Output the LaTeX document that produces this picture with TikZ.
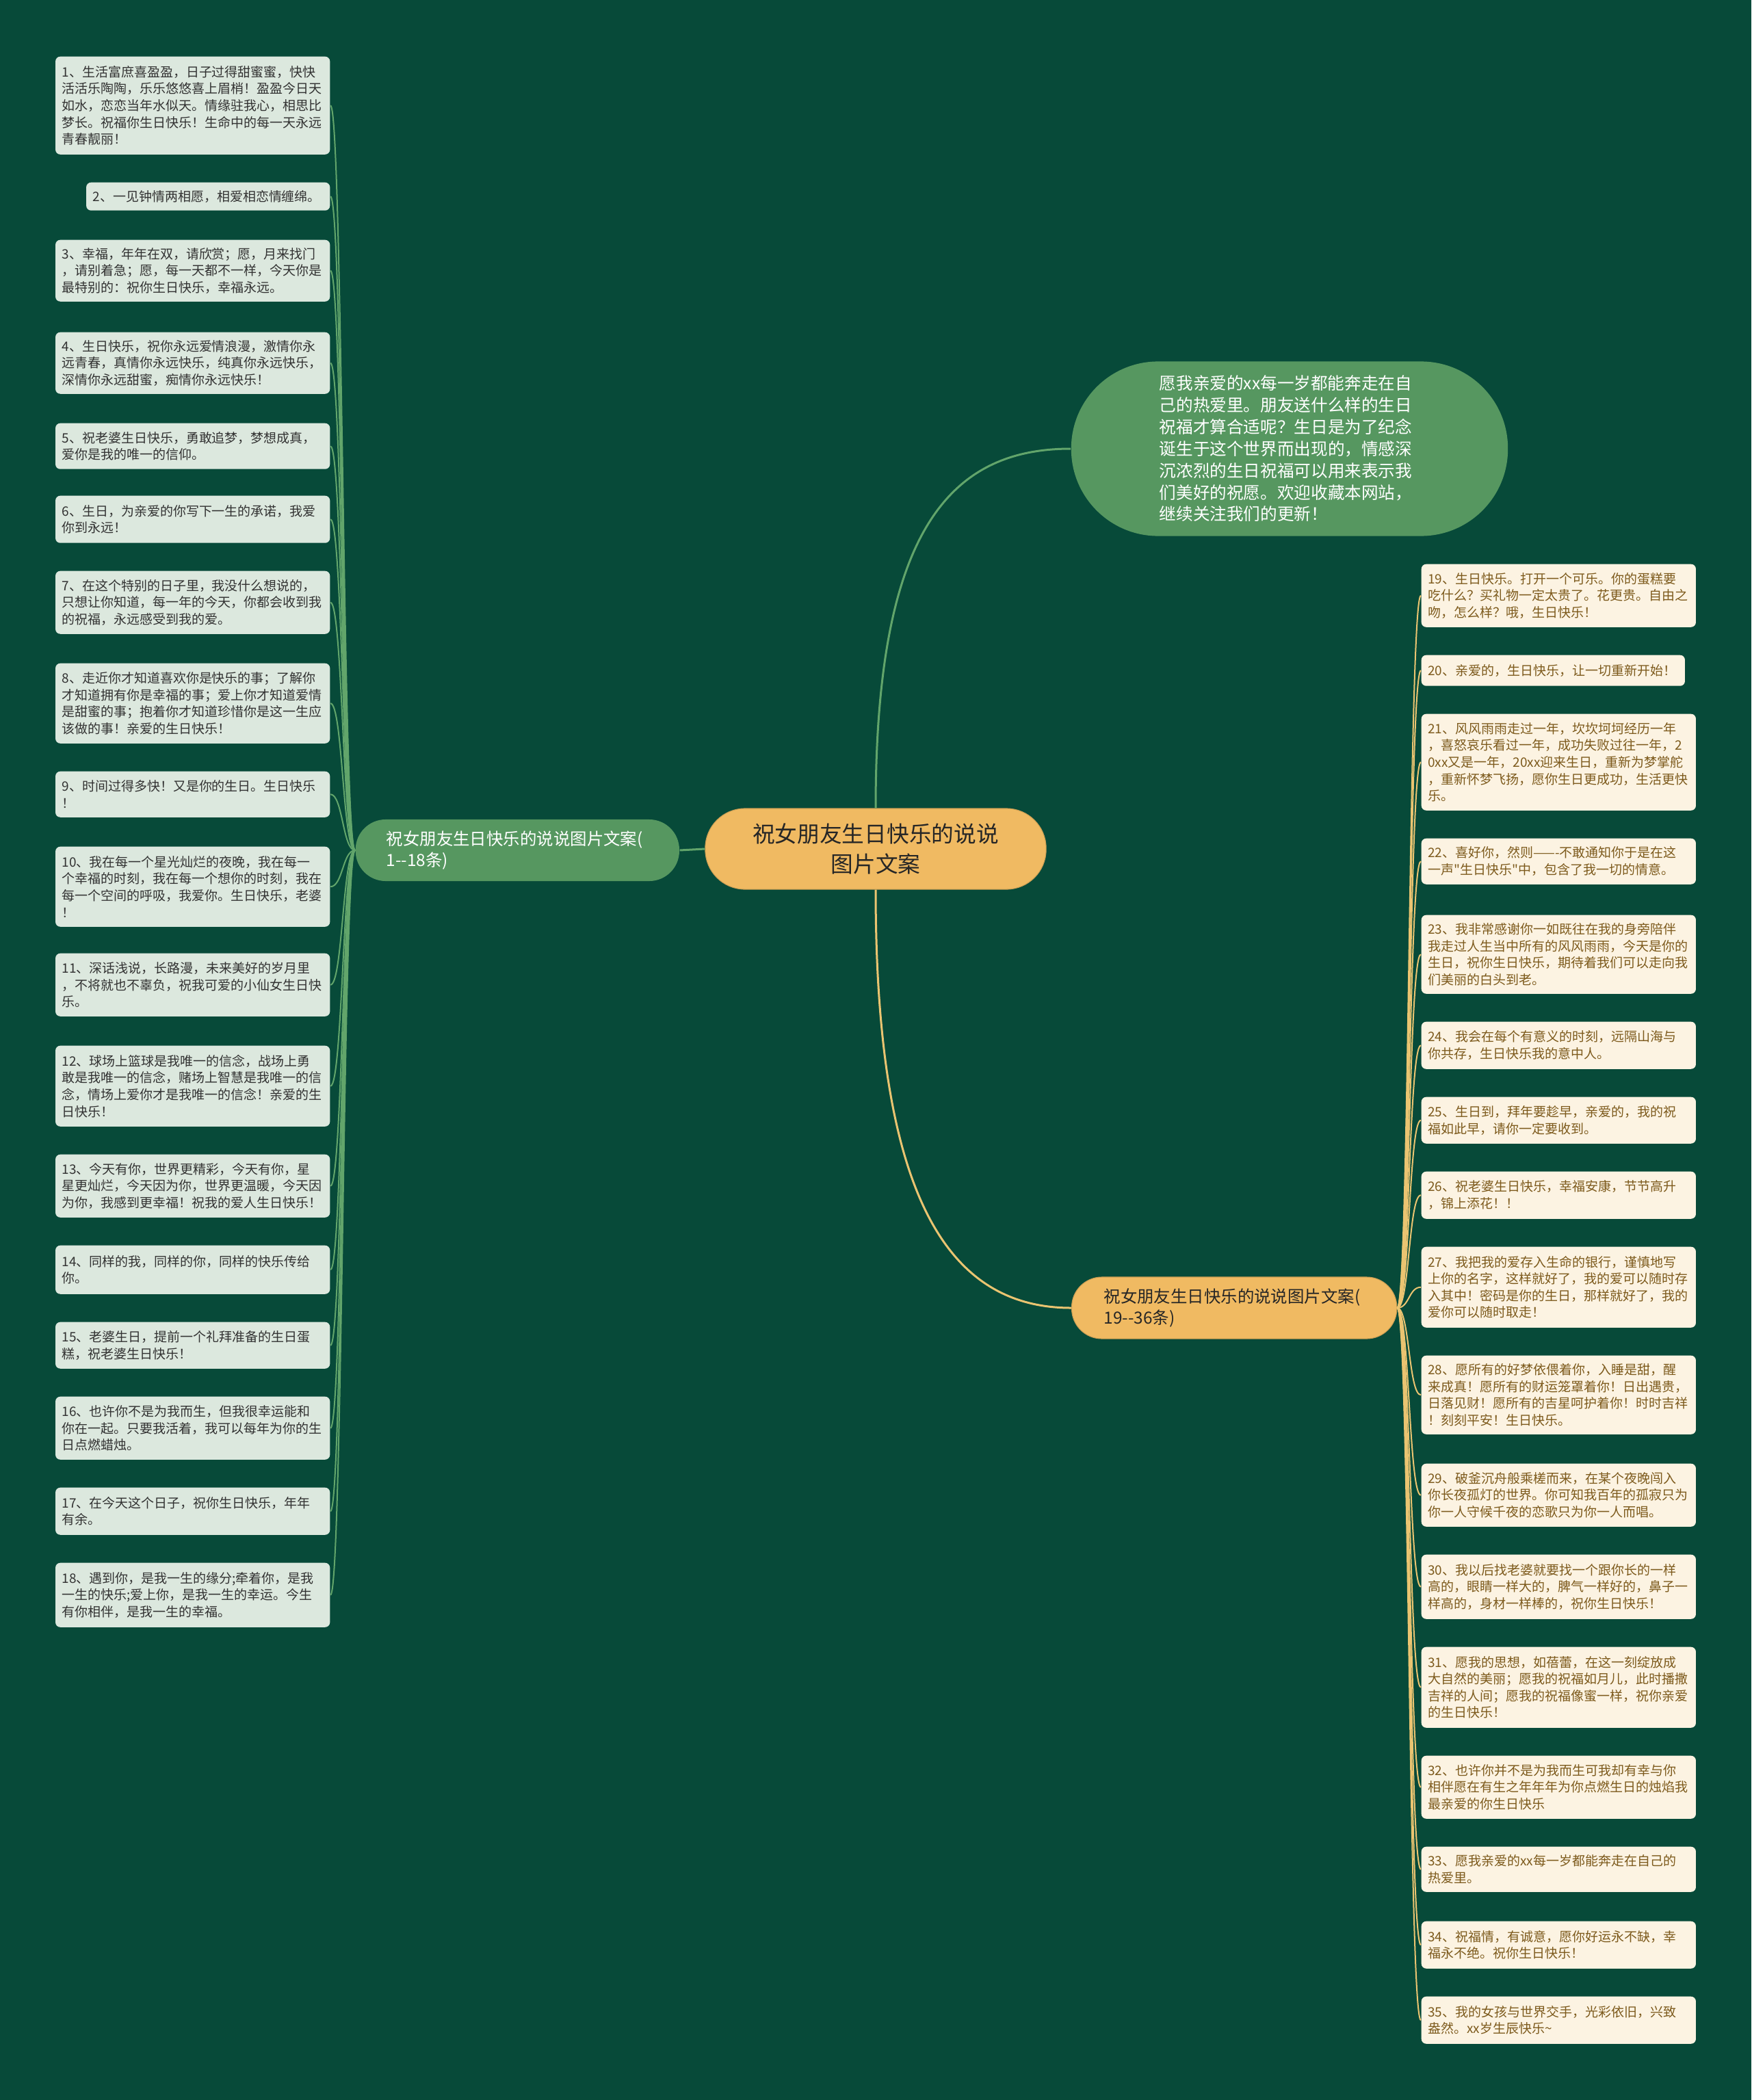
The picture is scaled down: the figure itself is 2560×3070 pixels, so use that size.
\documentclass[tikz,border=0pt]{standalone}
\usepackage{fontspec}
\setmainfont{Noto Sans CJK SC}[Ligatures=TeXOff]
\usetikzlibrary{positioning}
\definecolor{mapbg}{RGB}{7, 74, 57}
\definecolor{lboxfill}{RGB}{220, 232, 222}
\definecolor{lboxtext}{RGB}{50, 50, 50}
\definecolor{rboxfill}{RGB}{252, 243, 226}
\definecolor{rboxtext}{RGB}{125, 90, 28}
\definecolor{greenfill}{RGB}{86, 151, 96}
\definecolor{goldfill}{RGB}{240, 186, 98}
\definecolor{lline}{RGB}{98, 165, 107}
\definecolor{rline}{RGB}{234, 196, 113}
\tikzset{
  lbox/.style={rectangle, rounded corners=2pt, fill=lboxfill, text=lboxtext,
               text width=3.82cm, align=left, inner xsep=0.095cm, inner ysep=0pt,
               minimum height=#1, anchor=north east, font=\fontsize{5.4}{7}\selectfont},
  lbox/.default=0.68cm,
  rbox/.style={rectangle, rounded corners=2pt, fill=rboxfill, text=rboxtext,
               text width=3.82cm, align=left, inner xsep=0.095cm, inner ysep=0pt,
               minimum height=#1, anchor=north west, font=\fontsize{5.4}{7}\selectfont},
  rbox/.default=0.68cm,
  topic/.style={rectangle, rounded corners=0.58cm, fill=goldfill, draw=goldfill!85!black,
                line width=0.3pt, text=black!85, align=center, minimum width=4.98cm,
                minimum height=1.18cm, font=\fontsize{9.3}{12.3}\selectfont},
  branch/.style={rectangle, rounded corners=0.44cm, fill=#1, text width=3.83cm,
                 align=left, inner xsep=0.45cm, minimum height=0.9cm,
                 font=\fontsize{6.95}{8.6}\selectfont},
  branch/.default=greenfill,
  bubble/.style={rectangle, rounded corners=1.27cm, fill=greenfill, text=white,
                 text width=3.8cm, align=left, minimum width=6.38cm, minimum height=2.55cm,
                 font=\fontsize{7}{9.05}\selectfont},
  link/.style={line width=0.02cm, color=#1},
  mainlink/.style={line width=0.03cm, color=#1},
}
\begin{document}
\begin{tikzpicture}[x=0.01cm, y=-0.01cm]
  \fill[mapbg] (0,0) rectangle (2560,3070);
  \useasboundingbox (0,0) rectangle (2560,3070);

  % centre and first level
  \node[topic] (ctr) at (1280,1241) {祝女朋友生日快乐的说说\\图片文案};
  \node[branch, text=white, anchor=west] (lbr) at (519,1243)
       {祝女朋友生日快乐的说说图片文案(\\1-{}-18条)};
  \node[branch=goldfill, draw=goldfill!85!black, line width=0.3pt, text=black!85,
        anchor=west, inner xsep=0.47cm, text width=3.81cm] (rbr) at (1566,1912)
       {祝女朋友生日快乐的说说图片文案(\\19-{}-36条)};
  \node[bubble] (intro) at (1885,656)
       {愿我亲爱的xx每一岁都能奔走在自\\己的热爱里。朋友送什么样的生日\\祝福才算合适呢？生日是为了纪念\\诞生于这个世界而出现的，情感深\\沉浓烈的生日祝福可以用来表示我\\们美好的祝愿。欢迎收藏本网站，\\继续关注我们的更新！};

  % left column
  \node[lbox=1.43cm] (l1) at (483,82) {1、生活富庶喜盈盈，日子过得甜蜜蜜，快快\\活活乐陶陶，乐乐悠悠喜上眉梢！盈盈今日天\\如水，恋恋当年水似天。情缘驻我心，相思比\\梦长。祝福你生日快乐！生命中的每一天永远\\青春靓丽！};
  \node[lbox=0.41cm, text width=3.37cm] (l2) at (483,266) {2、一见钟情两相愿，相爱相恋情缠绵。};
  \node[lbox=0.9cm] (l3) at (483,350) {3、幸福，年年在双，请欣赏；愿，月来找门\\，请别着急；愿，每一天都不一样，今天你是\\最特别的：祝你生日快乐，幸福永远。};
  \node[lbox=0.9cm] (l4) at (483,485) {4、生日快乐，祝你永远爱情浪漫，激情你永\\远青春，真情你永远快乐，纯真你永远快乐，\\深情你永远甜蜜，痴情你永远快乐！};
  \node[lbox=0.67cm] (l5) at (483,618) {5、祝老婆生日快乐，勇敢追梦，梦想成真，\\爱你是我的唯一的信仰。};
  \node[lbox=0.69cm] (l6) at (483,724) {6、生日，为亲爱的你写下一生的承诺，我爱\\你到永远！};
  \node[lbox=0.92cm] (l7) at (483,834) {7、在这个特别的日子里，我没什么想说的，\\只想让你知道，每一年的今天，你都会收到我\\的祝福，永远感受到我的爱。};
  \node[lbox=1.17cm] (l8) at (483,969) {8、走近你才知道喜欢你是快乐的事；了解你\\才知道拥有你是幸福的事；爱上你才知道爱情\\是甜蜜的事；抱着你才知道珍惜你是这一生应\\该做的事！亲爱的生日快乐！};
  \node[lbox=0.67cm] (l9) at (483,1127) {9、时间过得多快！又是你的生日。生日快乐\\！};
  \node[lbox=1.17cm] (l10) at (483,1237) {10、我在每一个星光灿烂的夜晚，我在每一\\个幸福的时刻，我在每一个想你的时刻，我在\\每一个空间的呼吸，我爱你。生日快乐，老婆\\！};
  \node[lbox=0.92cm] (l11) at (483,1393) {11、深话浅说，长路漫，未来美好的岁月里\\，不将就也不辜负，祝我可爱的小仙女生日快\\乐。};
  \node[lbox=1.18cm] (l12) at (483,1528) {12、球场上篮球是我唯一的信念，战场上勇\\敢是我唯一的信念，赌场上智慧是我唯一的信\\念，情场上爱你才是我唯一的信念！亲爱的生\\日快乐！};
  \node[lbox=0.92cm] (l13) at (483,1687) {13、今天有你，世界更精彩，今天有你，星\\星更灿烂，今天因为你，世界更温暖，今天因\\为你，我感到更幸福！祝我的爱人生日快乐！};
  \node[lbox=0.71cm] (l14) at (483,1820) {14、同样的我，同样的你，同样的快乐传给\\你。};
  \node[lbox=0.68cm] (l15) at (483,1932) {15、老婆生日，提前一个礼拜准备的生日蛋\\糕，祝老婆生日快乐！};
  \node[lbox=0.92cm] (l16) at (483,2041) {16、也许你不是为我而生，但我很幸运能和\\你在一起。只要我活着，我可以每年为你的生\\日点燃蜡烛。};
  \node[lbox=0.69cm] (l17) at (483,2174) {17、在今天这个日子，祝你生日快乐，年年\\有余。};
  \node[lbox=0.94cm] (l18) at (483,2284) {18、遇到你，是我一生的缘分;牵着你，是我\\一生的快乐;爱上你，是我一生的幸运。今生\\有你相伴，是我一生的幸福。};

  % right column
  \node[rbox=0.92cm] (r19) at (2077,824) {19、生日快乐。打开一个可乐。你的蛋糕要\\吃什么？买礼物一定太贵了。花更贵。自由之\\吻，怎么样？哦，生日快乐！};
  \node[rbox=0.45cm, text width=3.66cm] (r20) at (2077,957) {20、亲爱的，生日快乐，让一切重新开始！};
  \node[rbox=1.41cm] (r21) at (2077,1043) {21、风风雨雨走过一年，坎坎坷坷经历一年\\，喜怒哀乐看过一年，成功失败过往一年，2\\0xx又是一年，20xx迎来生日，重新为梦掌舵\\，重新怀梦飞扬，愿你生日更成功，生活更快\\乐。};
  \node[rbox=0.67cm] (r22) at (2077,1225) {22、喜好你，然则——-不敢通知你于是在这\\一声"生日快乐"中，包含了我一切的情意。};
  \node[rbox=1.15cm] (r23) at (2077,1337) {23、我非常感谢你一如既往在我的身旁陪伴\\我走过人生当中所有的风风雨雨，今天是你的\\生日，祝你生日快乐，期待着我们可以走向我\\们美丽的白头到老。};
  \node[rbox=0.69cm] (r24) at (2077,1493) {24、我会在每个有意义的时刻，远隔山海与\\你共存，生日快乐我的意中人。};
  \node[rbox=0.68cm] (r25) at (2077,1603) {25、生日到，拜年要趁早，亲爱的，我的祝\\福如此早，请你一定要收到。};
  \node[rbox=0.69cm] (r26) at (2077,1712) {26、祝老婆生日快乐，幸福安康，节节高升\\，锦上添花！！};
  \node[rbox=1.18cm] (r27) at (2077,1822) {27、我把我的爱存入生命的银行，谨慎地写\\上你的名字，这样就好了，我的爱可以随时存\\入其中！密码是你的生日，那样就好了，我的\\爱你可以随时取走！};
  \node[rbox=1.15cm] (r28) at (2077,1981) {28、愿所有的好梦依偎着你，入睡是甜，醒\\来成真！愿所有的财运笼罩着你！日出遇贵，\\日落见财！愿所有的吉星呵护着你！时时吉祥\\！刻刻平安！生日快乐。};
  \node[rbox=0.92cm] (r29) at (2077,2139) {29、破釜沉舟般乘槎而来，在某个夜晚闯入\\你长夜孤灯的世界。你可知我百年的孤寂只为\\你一人守候千夜的恋歌只为你一人而唱。};
  \node[rbox=0.94cm] (r30) at (2077,2272) {30、我以后找老婆就要找一个跟你长的一样\\高的，眼睛一样大的，脾气一样好的，鼻子一\\样高的，身材一样棒的，祝你生日快乐！};
  \node[rbox=1.18cm] (r31) at (2077,2407) {31、愿我的思想，如蓓蕾，在这一刻绽放成\\大自然的美丽；愿我的祝福如月儿，此时播撒\\吉祥的人间；愿我的祝福像蜜一样，祝你亲爱\\的生日快乐！};
  \node[rbox=0.92cm] (r32) at (2077,2566) {32、也许你并不是为我而生可我却有幸与你\\相伴愿在有生之年年年为你点燃生日的烛焰我\\最亲爱的你生日快乐};
  \node[rbox=0.66cm] (r33) at (2077,2699) {33、愿我亲爱的xx每一岁都能奔走在自己的\\热爱里。};
  \node[rbox=0.69cm] (r34) at (2077,2808) {34、祝福情，有诚意，愿你好运永不缺，幸\\福永不绝。祝你生日快乐！};
  \node[rbox=0.69cm] (r35) at (2077,2918) {35、我的女孩与世界交手，光彩依旧，兴致\\盎然。xx岁生辰快乐\textasciitilde};

  % connectors
  \draw[mainlink=lline] (ctr.west) -- (lbr.east);
  \draw[mainlink=lline] (ctr.north) .. controls +(0,-400) and +(-180,0) .. (intro.west);
  \draw[mainlink=rline] (ctr.south) .. controls +(0,450) and +(-180,0) .. (rbr.west);
  \foreach \i in {1,...,18}
    \draw[link=lline] (lbr.west) .. controls +(-18,0) and +(18,0) .. (l\i.east);
  \foreach \i in {19,...,35}
    \draw[link=rline] (rbr.east) .. controls +(18,0) and +(-18,0) .. (r\i.west);
\end{tikzpicture}
\end{document}
